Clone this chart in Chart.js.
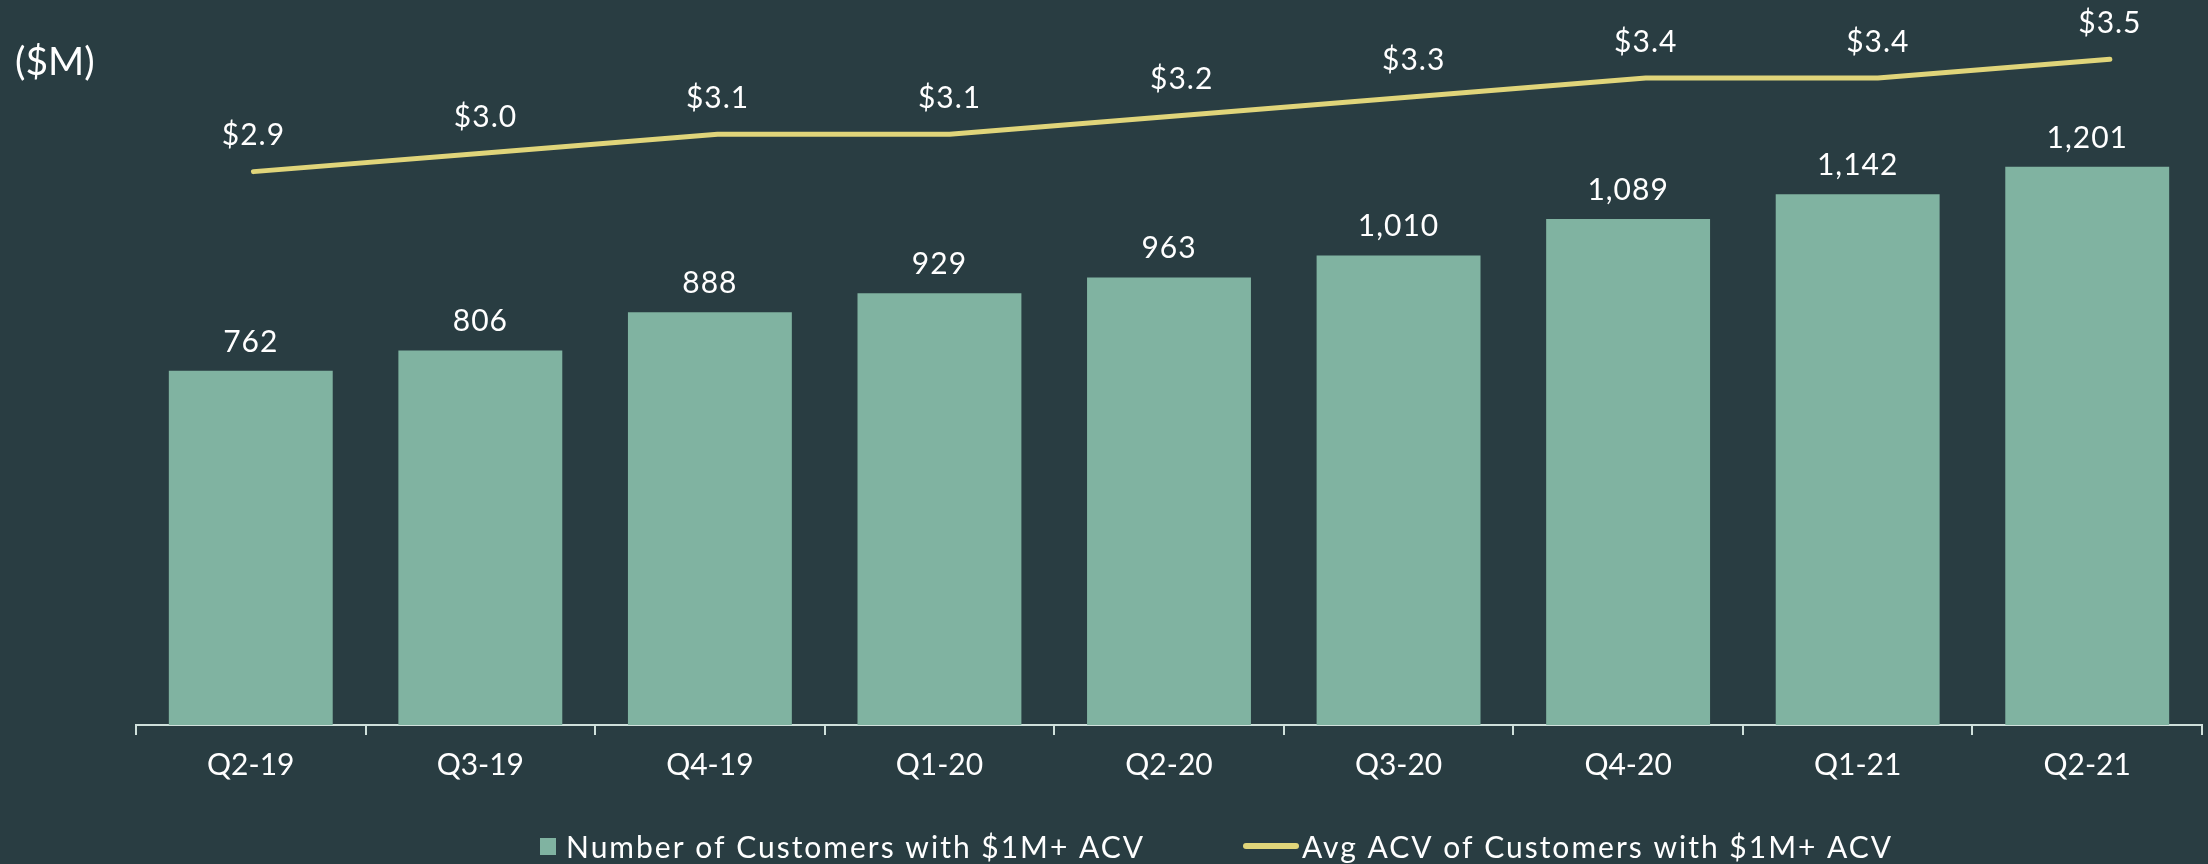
<!DOCTYPE html>
<html>
<head>
<meta charset="utf-8">
<script src="https://cdn.jsdelivr.net/npm/chart.js@4"></script>
<style>
html,body{margin:0;padding:0;background:#293d42;}
#wrap{width:2208px;height:864px;}
</style>
</head>
<body>
<div id="wrap"><canvas id="c" width="2208" height="864"></canvas></div>
<script>
const categories = ["Q2-19","Q3-19","Q4-19","Q1-20","Q2-20","Q3-20","Q4-20","Q1-21","Q2-21"];
const customers = [762, 806, 888, 929, 963, 1010, 1089, 1142, 1201];
const avgAcv = [2.9, 3.0, 3.1, 3.1, 3.2, 3.3, 3.4, 3.4, 3.5];
const barLabel = "Number of Customers with $1M+ ACV";
const lineLabel = "Avg ACV of Customers with $1M+ ACV";
const unitLabel = "($M)";

const BG = "#293d42", BAR = "#80b3a1", LINE = "#e0d57a", TXT = "#ffffff", AXIS = "#cfe0db";
const FONT = "Lato, 'Open Sans', sans-serif";

const labelPlugin = {
  id: "labels",
  beforeDraw(chart) {
    const ctx = chart.ctx;
    ctx.save();
    ctx.fillStyle = BG;
    ctx.fillRect(0, 0, chart.width, chart.height);
    ctx.restore();
  },
  afterDraw(chart) {
    const ctx = chart.ctx;
    ctx.save();
    ctx.fillStyle = TXT;
    ctx.textAlign = "center";
    ctx.textBaseline = "middle";
    ctx.font = "30px " + FONT;
    ctx.letterSpacing = "1px";
    chart.getDatasetMeta(0).data.forEach((el, i) => {
      ctx.fillText(customers[i].toLocaleString("en-US"), el.x, el.y - 29);
    });
    chart.getDatasetMeta(1).data.forEach((el, i) => {
      ctx.fillText("$" + avgAcv[i].toFixed(1), el.x, el.y - 36);
    });
    // unit label
    ctx.textAlign = "left";
    ctx.font = "39px " + FONT;
    ctx.letterSpacing = "0px";
    ctx.fillText(unitLabel, 15, 62);
    // legend
    ctx.font = "30px " + FONT;
    ctx.letterSpacing = "2px";
    ctx.fillStyle = BAR;
    ctx.fillRect(540, 838, 16, 17);
    ctx.fillStyle = TXT;
    ctx.fillText(barLabel, 566, 848);
    ctx.strokeStyle = LINE;
    ctx.lineWidth = 6;
    ctx.lineCap = "round";
    ctx.beginPath();
    ctx.moveTo(1246, 846);
    ctx.lineTo(1296, 846);
    ctx.stroke();
    ctx.fillText(lineLabel, 1302, 848);
    ctx.restore();
  }
};

new Chart(document.getElementById("c"), {
  type: "bar",
  data: {
    labels: categories,
    datasets: [
      {
        type: "bar",
        label: barLabel,
        data: customers,
        backgroundColor: BAR,
        yAxisID: "y",
        xAxisID: "x",
        grouped: false,
        categoryPercentage: 1.0,
        barPercentage: 0.714,
        order: 2
      },
      {
        type: "line",
        label: lineLabel,
        data: avgAcv.map((v, i) => ({x: i, y: v})),
        borderColor: LINE,
        borderWidth: 5,
        borderCapStyle: "round",
        borderJoinStyle: "round",
        pointRadius: 0,
        tension: 0,
        yAxisID: "y1",
        xAxisID: "x2",
        order: 1
      }
    ]
  },
  options: {
    responsive: false,
    animation: false,
    layout: {padding: {left: 136, right: 6, top: 20, bottom: 0}},
    plugins: {legend: {display: false}, tooltip: {enabled: false}},
    scales: {
      x: {
        type: "category",
        offset: true,
        border: {display: true, color: AXIS, width: 2},
        grid: {display: true, offset: true, drawOnChartArea: false, drawTicks: true, tickLength: 10, color: AXIS, lineWidth: 2},
        ticks: {color: TXT, font: {family: FONT, size: 30}, padding: 12, maxRotation: 0},
        afterFit: s => { s.height = 139; }
      },
      x2: {type: "linear", display: false, offset: false, bounds: "data", min: -0.506, max: 8.397, grid: {offset: false}},
      y: {display: false, min: 0, max: 1517},
      y1: {display: false, min: -0.056, max: 3.710}
    }
  },
  plugins: [labelPlugin]
});
</script>
</body>
</html>
